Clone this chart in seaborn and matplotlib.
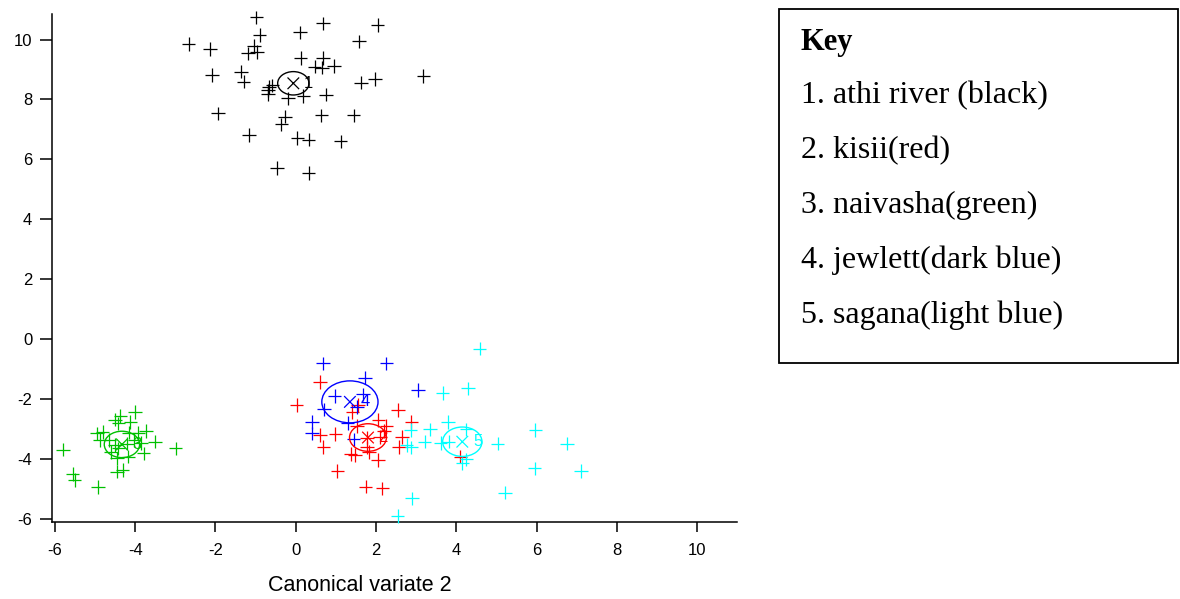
import numpy as np
import pandas as pd
import matplotlib
matplotlib.use("Agg")
import matplotlib.pyplot as plt
import seaborn as sns
from matplotlib.patches import Ellipse, Rectangle

# ---------------- data ----------------
groups = ["1", "2", "3", "4", "5"]
group_colors = ["#000000", "#ff0000", "#00c000", "#0000ff", "#00ffff"]

black_x = [-0.98, 0.68, 2.04, -0.90, 0.10, -2.67, -2.13, -1.04, -1.19, -0.97,
           1.57, 0.12, 0.68, 0.47, 0.65, 0.96, -2.09, -1.36, -1.30, 1.97,
           1.63, 3.18, -0.66, -0.69, -0.69, -0.58, -0.19, 0.19, 0.75, -1.93,
           -0.27, -0.36, 0.64, 1.44, -1.16, 0.04, 0.32, 1.12, -0.46, 0.32]
black_y = [10.74, 10.54, 10.49, 10.16, 10.24, 9.86, 9.69, 9.80, 9.54, 9.58,
           9.94, 9.39, 9.39, 9.10, 9.06, 9.12, 8.82, 8.93, 8.60, 8.69,
           8.56, 8.78, 8.41, 8.30, 8.19, 8.47, 8.04, 8.11, 8.16, 7.54,
           7.43, 7.17, 7.47, 7.47, 6.82, 6.71, 6.66, 6.60, 5.71, 5.54]

red_x = [0.60, 0.02, 2.55, 1.41, 1.55, 2.06, 2.88, 2.26, 1.52, 0.99,
         0.60, 0.69, 1.77, 2.10, 2.65, 2.57, 1.78, 1.82, 1.37, 1.47,
         2.05, 1.04, 1.74, 2.16, 4.10, 2.20]
red_y = [-1.42, -2.20, -2.37, -2.42, -2.20, -2.70, -2.76, -2.90, -2.90, -3.17,
         -3.20, -3.59, -3.28, -3.26, -3.26, -3.59, -3.61, -3.76, -3.83, -3.87,
         -4.03, -4.40, -4.92, -4.98, -3.92, -3.06]

green_x = [-5.80, -4.00, -4.37, -4.50, -4.12, -4.42, -4.95, -4.81, -4.15, -3.92,
           -3.73, -3.51, -2.99, -4.87, -4.64, -4.50, -4.42, -4.60, -3.86, -3.79,
           -4.17, -4.45, -4.02, -4.31, -4.45, -5.56, -5.51, -4.92, -4.20]
green_y = [-3.68, -2.42, -2.57, -2.68, -2.77, -2.81, -3.14, -3.09, -3.12, -3.12,
           -3.07, -3.42, -3.64, -3.37, -3.37, -3.53, -3.64, -3.76, -3.46, -3.81,
           -3.92, -3.98, -3.37, -4.37, -4.42, -4.50, -4.70, -4.94, -3.48]

blue_x = [0.68, 2.26, 1.72, 3.04, 0.97, 1.68, 1.52, 0.70, 0.40, 1.29, 0.41, 1.44]
blue_y = [-0.81, -0.81, -1.28, -1.70, -1.90, -1.84, -2.26, -2.34, -2.76, -2.79, -3.14, -3.34]

cyan_x = [4.58, 3.66, 4.29, 3.80, 3.34, 2.86, 4.25, 3.21, 2.76, 2.88, 3.61,
          3.81, 5.03, 4.25, 4.15, 5.22, 2.90, 2.54, 5.97, 6.76, 5.95, 7.11]
cyan_y = [-0.31, -1.79, -1.64, -2.76, -3.01, -3.03, -3.01, -3.42, -3.53, -3.61, -3.46,
          -3.42, -3.48, -4.01, -4.14, -5.12, -5.31, -5.90, -3.03, -3.48, -4.31, -4.40]

center_x = [-0.06, 1.80, -4.33, 1.35, 4.15]
center_y = [8.54, -3.28, -3.51, -2.09, -3.42]
circle_r = [0.39, 0.46, 0.44, 0.70, 0.49]

x_ticks = [-6, -4, -2, 0, 2, 4, 6, 8, 10]
y_ticks = [-6, -4, -2, 0, 2, 4, 6, 8, 10]
x_label = "Canonical variate 2"

key_title = "Key"
key_items = ["1. athi river (black)", "2. kisii(red)", "3. naivasha(green)",
             "4. jewlett(dark blue)", "5. sagana(light blue)"]

# ---------------- build table ----------------
xs = [black_x, red_x, green_x, blue_x, cyan_x]
ys = [black_y, red_y, green_y, blue_y, cyan_y]
frames = [pd.DataFrame({"x": gx, "y": gy, "group": g}) for g, gx, gy in zip(groups, xs, ys)]
df = pd.concat(frames, ignore_index=True)
centers = pd.DataFrame({"x": center_x, "y": center_y, "group": groups})

# ---------------- plot ----------------
sns.set_style("ticks")
plt.rcParams["font.family"] = ["Liberation Sans", "DejaVu Sans"]
for key in ["text.color", "axes.labelcolor", "xtick.color", "ytick.color",
            "xtick.labelcolor", "ytick.labelcolor", "axes.edgecolor"]:
    plt.rcParams[key] = "black"

fig = plt.figure(figsize=(11.8, 5.99), dpi=100)
ax = fig.add_axes([0.0438, 0.1285, 0.581, 0.848])

palette = dict(zip(groups, group_colors))
sns.scatterplot(data=df, x="x", y="y", hue="group", palette=palette, marker="+",
                s=95, linewidth=0.9, legend=False, ax=ax, clip_on=False, zorder=3)
sns.scatterplot(data=centers, x="x", y="y", hue="group", palette=palette, marker="x",
                s=70, linewidth=0.9, legend=False, ax=ax, zorder=4)

for cx, cy, r, g, c in zip(center_x, center_y, circle_r, groups, group_colors):
    ax.add_patch(Ellipse((cx, cy), 2 * r, 2 * r, fill=False, edgecolor=c, lw=1.0, zorder=4))
    ax.annotate(g, (cx, cy), xytext=(11, 0), textcoords="offset points",
                ha="center", va="center", color=c, fontsize=12, zorder=5)

ax.set_xlim(-6.08, 11.0)
ax.set_ylim(-6.1, 10.85)
ax.set_xticks(x_ticks)
ax.set_yticks(y_ticks)
ax.set_xticklabels([str(v) for v in x_ticks])
ax.set_yticklabels([str(v) for v in y_ticks])
ax.tick_params(axis="x", direction="out", length=7, width=1.1, pad=8, labelsize=12,
               color="black", labelcolor="black")
ax.tick_params(axis="y", direction="out", length=9, width=1.1, pad=5, labelsize=12,
               color="black", labelcolor="black")
for sp in ["left", "bottom"]:
    ax.spines[sp].set_linewidth(1.1)
    ax.spines[sp].set_color("black")
sns.despine(ax=ax)

ax.set_xlabel(x_label, fontsize=15.5, color="black")
ax.set_ylabel("")
ax.xaxis.label.set_va("center")
ax.xaxis.set_label_coords(0.45, -0.1255)

# ---------------- key box ----------------
fig.patches.append(Rectangle((0.6604, 0.3945), 0.3379, 0.59, transform=fig.transFigure,
                             fill=False, edgecolor="black", lw=1.3, figure=fig))
serif = ["Liberation Serif", "DejaVu Serif"]
fig.text(0.6786, 0.9165, key_title, family=serif, fontsize=22, fontweight="bold",
         va="baseline", ha="left", color="black")
baselines = [0.828, 0.7362, 0.6444, 0.5526, 0.4608]
for txt, yb in zip(key_items, baselines):
    fig.text(0.6786, yb, txt, family=serif, fontsize=23, va="baseline", ha="left", color="black")

fig.savefig("out.png", dpi=100)
